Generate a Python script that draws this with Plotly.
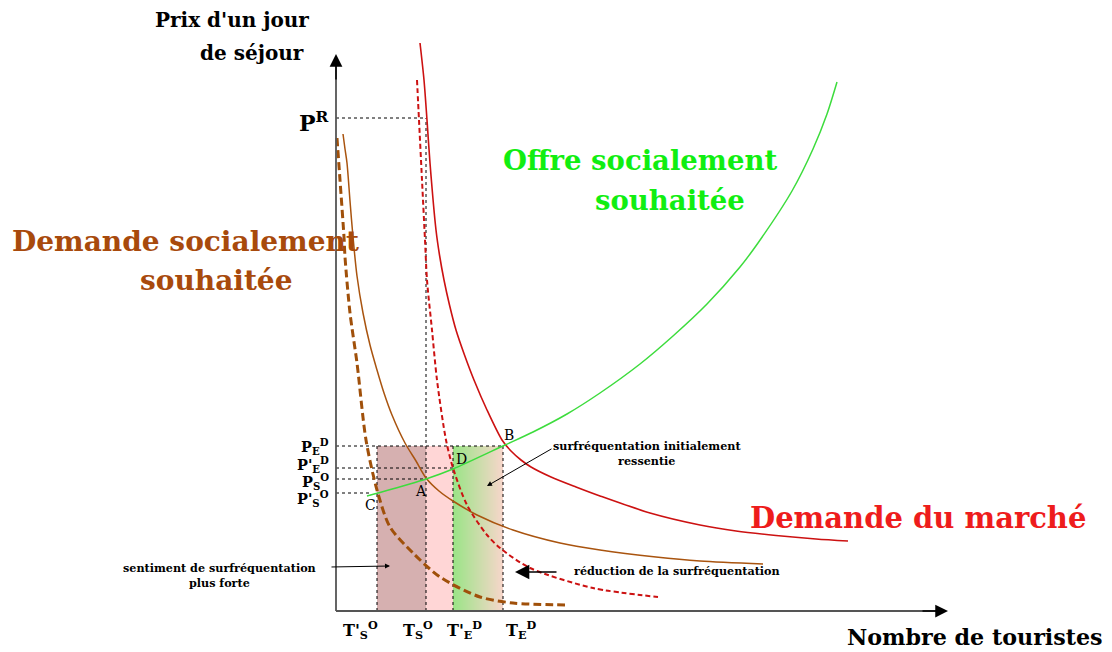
import plotly.graph_objects as go

# ---- data (x: number of tourists, y: price of a day's stay; arbitrary units) ----
# Demande du marché (solid red)
dm_x = [84, 88, 91, 94, 100, 103.5, 108, 113.5, 120, 128.5, 138, 151, 166, 175, 185, 195, 215, 240, 264, 314, 364, 400, 440, 480, 512]
dm_y = [568, 531, 491, 448, 381, 356, 331, 306, 281, 256, 231, 201, 171, 160, 151, 144, 134, 124, 115, 98, 86, 80, 75.5, 72, 70]
# Demande du marché réduite (dashed red)
dmr_x = [81, 83, 86, 89, 91, 96, 101, 110, 117, 131, 151, 164, 194, 257, 322]
dmr_y = [531, 491, 431, 371, 331, 281, 231, 171, 143, 106, 76, 63, 43, 23, 14]
# Demande socialement souhaitée (solid brown)
ds_x = [7, 9, 11, 14, 17, 21, 27, 34, 41, 48, 56, 69, 80, 90, 103, 117, 141, 177, 224, 264, 320, 364, 427]
ds_y = [477, 462, 448, 410, 374, 335, 298, 266, 241, 218, 196, 168, 150, 133, 120, 110, 96, 81, 68, 61, 54, 50, 47]
# Demande socialement souhaitée, sentiment plus fort (dashed brown)
dsf_x = [1, 4, 8, 9, 14, 21, 30, 41, 54, 77, 104, 144, 177, 229]
dsf_y = [473, 431, 374, 354, 298, 248, 171, 121, 84, 58, 34, 14, 8, 6]
# Offre socialement souhaitée (green)
os_x = [31, 42, 90, 117, 169, 197, 231, 264, 304, 337, 371, 404, 422, 456, 477, 491, 501]
os_y = [115, 118, 132, 142, 166, 179, 197, 218, 247, 275, 307, 344, 368, 420, 462, 497, 529]

# quantities and prices
T_Sp_O, T_S_O, T_Ep_D, T_E_D = 41, 90, 117, 167
P_E_D, P_Ep_D, P_S_O, P_Sp_O, P_R = 165, 143, 132, 118, 493
x_tick_labels = ["T'<sub>S</sub><sup>O</sup>", "T<sub>S</sub><sup>O</sup>",
                 "T'<sub>E</sub><sup>D</sup>", "T<sub>E</sub><sup>D</sup>"]
y_tick_labels = ["P<sub>E</sub><sup>D</sup>", "P'<sub>E</sub><sup>D</sup>",
                 "P<sub>S</sub><sup>O</sup>", "P'<sub>S</sub><sup>O</sup>"]

RED = "#cc1111"
BROWN = "#a9540f"
GREEN = "#3ddc3d"
SERIF = "DejaVu Serif"

fig = go.Figure()

# ---- shaded areas ----
shapes = []
shapes.append(dict(type="rect", x0=T_Sp_O, x1=T_S_O, y0=0, y1=P_E_D, xref="x", yref="y",
                   fillcolor="rgb(214,176,176)", line_width=0, layer="below"))
shapes.append(dict(type="rect", x0=T_S_O, x1=T_Ep_D, y0=0, y1=P_E_D, xref="x", yref="y",
                   fillcolor="rgb(255,214,214)", line_width=0, layer="below"))
n = 50
c0 = (155, 228, 135)
c1 = (246, 214, 202)
w = (T_E_D - T_Ep_D) / n
for i in range(n):
    t = i / (n - 1)
    c = tuple(int(round(c0[k] + (c1[k] - c0[k]) * t)) for k in range(3))
    shapes.append(dict(type="rect", x0=T_Ep_D + i * w, x1=min(T_Ep_D + (i + 1) * w + 0.3, T_E_D),
                       y0=0, y1=P_E_D, xref="x", yref="y",
                       fillcolor="rgb(%d,%d,%d)" % c, line_width=0, layer="below"))

# ---- dotted guide lines ----
def dotted(xs, ys):
    fig.add_trace(go.Scatter(x=xs, y=ys, mode="lines", hoverinfo="skip",
                             line=dict(color="black", width=1, dash="dot"), showlegend=False))

dotted([0, T_S_O], [P_R, P_R])
dotted([T_S_O, T_S_O], [0, P_R])
dotted([0, T_E_D], [P_E_D, P_E_D])
dotted([0, T_Ep_D], [P_Ep_D, P_Ep_D])
dotted([0, T_S_O], [P_S_O, P_S_O])
dotted([0, T_Sp_O - 8], [P_Sp_O, P_Sp_O])
for tx in [T_Sp_O, T_Ep_D, T_E_D]:
    dotted([tx, tx], [0, P_E_D])

# ---- curves ----
SM = 0.8
fig.add_trace(go.Scatter(x=dsf_x, y=dsf_y, mode="lines", line_shape="spline",
                         line=dict(color="#a0500a", width=3, dash="8px,4px", smoothing=SM), showlegend=False))
fig.add_trace(go.Scatter(x=ds_x, y=ds_y, mode="lines", line_shape="spline",
                         line=dict(color=BROWN, width=1.5, smoothing=SM), showlegend=False))
fig.add_trace(go.Scatter(x=dmr_x, y=dmr_y, mode="lines", line_shape="spline",
                         line=dict(color=RED, width=2, dash="5px,3px", smoothing=SM), showlegend=False))
fig.add_trace(go.Scatter(x=dm_x, y=dm_y, mode="lines", line_shape="spline",
                         line=dict(color=RED, width=1.6, smoothing=SM), showlegend=False))
fig.add_trace(go.Scatter(x=os_x, y=os_y, mode="lines", line_shape="spline",
                         line=dict(color=GREEN, width=1.5, smoothing=SM), showlegend=False))

# ---- axes ----
fig.add_trace(go.Scatter(x=[0, 0], y=[0, 545], mode="lines", line=dict(color="#555555", width=1.8),
                         hoverinfo="skip", showlegend=False))
fig.add_trace(go.Scatter(x=[0, 600], y=[0, 0], mode="lines", line=dict(color="#555555", width=1.8),
                         hoverinfo="skip", showlegend=False))

ann = []
def arrow(x, y, ax, ay, size=1.2, width=1.2, head=2):
    ann.append(dict(x=x, y=y, ax=ax, ay=ay, xref="x", yref="y", axref="x", ayref="y",
                    showarrow=True, arrowhead=head, arrowsize=size, arrowwidth=width,
                    arrowcolor="black", text=""))

arrow(0, 557, 0, 530, size=1.7, width=1.5)
arrow(612, 0, 585, 0, size=1.7, width=1.5)
arrow(54, 45, -6, 44, size=1.0, width=1.0)
arrow(151, 125, 217, 163, size=1.0, width=1.0)
arrow(179, 39, 222, 39, size=2.2, width=1.3)

def text(x, y, s, size, color="black", bold=True, xanchor="center", yanchor="middle"):
    if bold:
        s = "<b>" + s + "</b>"
    ann.append(dict(x=x, y=y, xref="x", yref="y", text=s, showarrow=False,
                    xanchor=xanchor, yanchor=yanchor,
                    font=dict(family=SERIF, size=size, color=color)))

# titles (pixel -> data: x = px-336, y = 611-py)
text(232 - 336, 611 - 20, "Prix d'un jour", 20)
text(252 - 336, 611 - 53, "de séjour", 20)
text(975 - 336, 611 - 637, "Nombre de touristes", 22.2)
text(640 - 336, 611 - 160, "Offre socialement", 27.5, "#11ee11")
text(670 - 336, 611 - 200, "souhaitée", 27.5, "#11ee11")
text(185 - 336, 611 - 241, "Demande socialement", 28, "#a84a0c")
text(216 - 336, 611 - 280, "souhaitée", 28, "#a84a0c")
text(918 - 336, 611 - 518, "Demande du marché", 29, "#ee1c1c")

text(-5, P_R - 4, "P<sup>R</sup>", 22, xanchor="right")
for lab, py in zip(y_tick_labels, [611 - 446, 611 - 464, 611 - 481, 611 - 498]):
    text(-5, py, lab, 14.5, xanchor="right")
for lab, px in zip(x_tick_labels, [360 - 336, 418 - 336, 464 - 336, 521 - 336]):
    text(px, -5, lab, 16, yanchor="top")

text(509 - 336, 611 - 435, "B", 14, bold=False)
text(461 - 336, 611 - 459, "D", 14, bold=False)
text(421 - 336, 611 - 491, "A", 14, bold=False)
text(370 - 336, 611 - 505, "C", 14, bold=False)

text(219 - 336, 611 - 575, "sentiment de surfréquentation<br>plus forte", 11.2)
text(647 - 336, 611 - 453, "surfréquentation initialement<br>ressentie", 11.2)
text(677 - 336, 611 - 571, "réduction de la surfréquentation", 11.2)

fig.update_layout(
    width=1112, height=652, autosize=False,
    margin=dict(l=0, r=0, t=0, b=0),
    paper_bgcolor="white", plot_bgcolor="white",
    xaxis=dict(range=[-336, 776], visible=False, fixedrange=True),
    yaxis=dict(range=[-41, 611], visible=False, fixedrange=True),
    shapes=shapes, annotations=ann, showlegend=False,
)

fig.write_html("out.html", config={"displayModeBar": False},
               post_script="document.body.style.margin='0';document.body.style.overflow='hidden';")
